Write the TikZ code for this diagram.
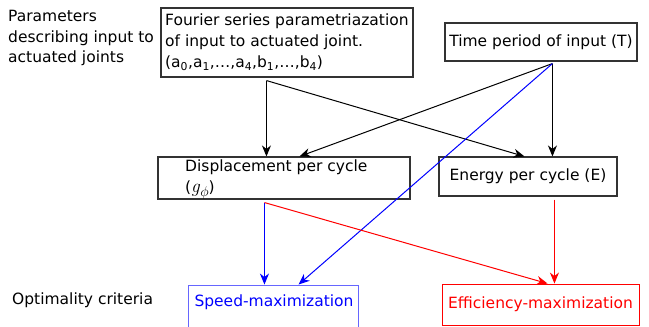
\documentclass[tikz,border=0pt]{standalone}
\usepackage{fontspec}
\setmainfont{DejaVu Sans}
\newfontfamily\lmroman{Latin Modern Roman}
\usetikzlibrary{arrows.meta,calc}
\begin{document}
\begin{tikzpicture}[x=1pt,y=-1pt,
  every node/.style={font=\fontsize{15.5}{21}\selectfont},
  box/.style={draw=black!80,line width=1.1pt,inner sep=0pt},
  txt/.style={inner sep=0pt,align=left},
  arr/.style={line width=1pt,-{Stealth[length=11pt,width=9pt,inset=3.5pt]}},
  bluearr/.style={arr,draw=blue},
  redarr/.style={arr,draw=red}]
\useasboundingbox (0,0) rectangle (649,327);
% left labels
\node[txt,anchor=west,font=\fontsize{15.5}{20.5}\selectfont] (plabel) at (8,38) {Parameters\\describing input to\\actuated joints};
\node[txt,anchor=west] (olabel) at (12,300) {Optimality criteria};
% boxes
\node[box,minimum width=252pt,minimum height=69pt] (fourier) at (287,42.5) {};
\node[txt,anchor=west] (ftext) at (165,42) {Fourier series parametriazation\\of input to actuated joint.\\(a\textsubscript{0},a\textsubscript{1},\dots,a\textsubscript{4},b\textsubscript{1},\dots,b\textsubscript{4})};
\node[box,minimum width=192pt,minimum height=38pt] (time) at (541,42) {Time period of input (T)};
\node[box,minimum width=252pt,minimum height=42pt] (disp) at (284,178) {};
\node[txt,anchor=west] (dtext) at (185,180) {Displacement per cycle\\\relax({\lmroman\itshape\fontsize{19}{21}\selectfont g}\kern0.5pt\raisebox{-4pt}{\fontsize{13.5}{14}\selectfont\(\phi\)})};
\node[box,minimum width=178pt,minimum height=39pt] (energy) at (528,176.5) {Energy per cycle (E)};
\node[box,draw=blue!60,line width=0.9pt,minimum width=170pt,minimum height=46pt] (speed) at (273,308) {};
\node[txt,text=blue,anchor=center] (stext) at (274,302) {Speed-maximization};
\node[box,draw=red,line width=0.9pt,minimum width=197pt,minimum height=41pt,text=red] (eff) at (540.5,304.5) {Efficiency-maximization};
% start points
\coordinate (f1) at ($(fourier.south west)+(106,3)$);
\coordinate (t1) at ($(time.south west)+(108,2)$);
\coordinate (d1) at ($(disp.south west)+(107,3)$);
\coordinate (e1) at ($(energy.south west)+(116,3)$);
% connectors
\draw[arr] (f1) -- (f1 |- disp.north);
\draw[arr] (f1) -- ($(energy.north west)+(86,0)$);
\draw[arr] (t1) -- (t1 |- energy.north);
\draw[arr] (t1) -- ($(disp.north west)+(142,0)$);
\draw[bluearr] (t1) -- ($(speed.north west)+(111,0)$);
\draw[bluearr] (d1) -- (d1 |- speed.north);
\draw[redarr] (d1) -- ($(eff.north west)+(106,0)$);
\draw[redarr] (e1) -- (e1 |- eff.north);
\end{tikzpicture}
\end{document}
